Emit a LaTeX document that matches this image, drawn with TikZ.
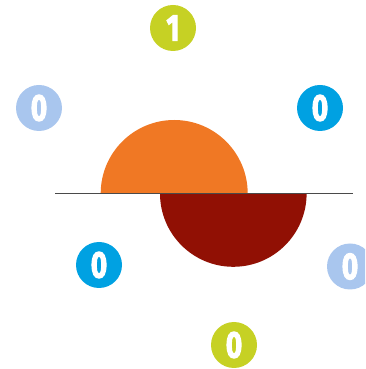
\documentclass[tikz,border=0pt]{standalone}
\usepackage{fontspec}
\newfontfamily\badgefont{Fira Sans}[BoldFeatures={FakeBold=3.5}]
\definecolor{ygreen}{HTML}{C6D124}
\definecolor{lblue}{HTML}{A9C6EE}
\definecolor{dblue}{HTML}{00A1E2}
\definecolor{sorange}{HTML}{F07824}
\definecolor{dred}{HTML}{911004}
\definecolor{axisgray}{HTML}{4A4A4A}
\tikzset{
  badge/.style={circle, fill=#1, minimum size=46pt, inner sep=0pt, text=white,
    font=\badgefont\bfseries\fontsize{37}{37}\selectfont},
}
\newcommand{\dig}[1]{\scalebox{0.75}[1]{#1}}
\begin{document}
\begin{tikzpicture}[x=1pt,y=1pt]
\useasboundingbox (0,0) rectangle (365,369);
\clip (0,0) rectangle (365,369);
\fill[sorange] (100.7,175.5) arc (180:0:73.5) -- cycle;
\fill[dred] (160,175.5) arc (180:360:73.3) -- cycle;
\coordinate (la) at (55,175.5);
\coordinate (lb) at (353,175.5);
\draw[axisgray, line width=1.5pt] (la) -- (lb);
\node[badge=ygreen] (one) at (173,341) {\dig{1}};
\node[badge=lblue] (zl) at (39,261) {\dig{0}};
\node[badge=dblue] (zr) at (320,261) {\dig{0}};
\node[badge=dblue] (zbl) at (99,104) {\dig{0}};
\node[badge=lblue] (zbr) at (350,102.5) {\dig{0}};
\node[badge=ygreen] (zb) at (234,24) {\dig{0}};
\end{tikzpicture}
\end{document}
